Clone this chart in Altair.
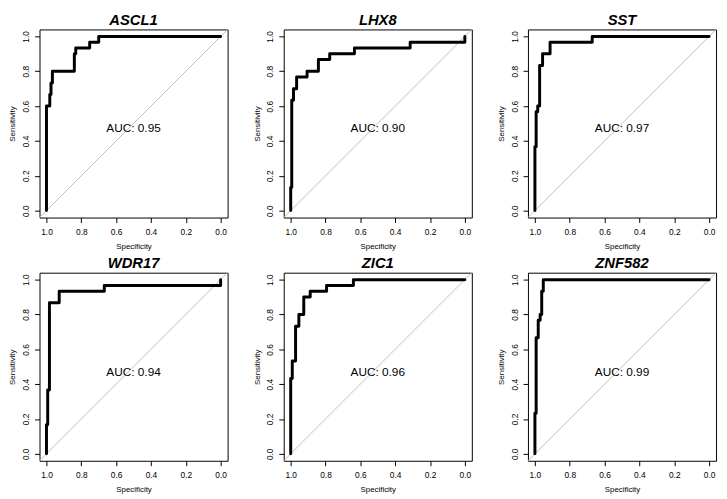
import altair as alt
import pandas as pd

FONT = "Liberation Sans"

genes = ["ASCL1", "LHX8", "SST", "WDR17", "ZIC1", "ZNF582"]
auc_values = [0.95, 0.90, 0.97, 0.94, 0.96, 0.99]

ascl1_spec = [1.0, 1.0, 0.981, 0.981, 0.974, 0.974, 0.966, 0.966, 0.840, 0.840, 0.832, 0.832, 0.752, 0.752, 0.700, 0.700, 0.0]
ascl1_sens = [0.0, 0.6, 0.6, 0.667, 0.667, 0.733, 0.733, 0.8, 0.8, 0.9, 0.9, 0.933, 0.933, 0.967, 0.967, 1.0, 1.0]

lhx8_spec = [1.0, 1.0, 0.994, 0.994, 0.984, 0.984, 0.966, 0.966, 0.906, 0.906, 0.841, 0.841, 0.776, 0.776, 0.634, 0.634, 0.314, 0.314, 0.0, 0.0]
lhx8_sens = [0.0, 0.133, 0.133, 0.633, 0.633, 0.70, 0.70, 0.767, 0.767, 0.80, 0.80, 0.867, 0.867, 0.90, 0.90, 0.933, 0.933, 0.967, 0.967, 1.0]

sst_spec = [1.0, 1.0, 0.993, 0.993, 0.984, 0.984, 0.973, 0.973, 0.956, 0.956, 0.913, 0.913, 0.671, 0.671, 0.0]
sst_sens = [0.0, 0.367, 0.367, 0.567, 0.567, 0.6, 0.6, 0.833, 0.833, 0.9, 0.9, 0.967, 0.967, 1.0, 1.0]

wdr17_spec = [1.0, 1.0, 0.993, 0.993, 0.983, 0.983, 0.927, 0.927, 0.668, 0.668, 0.0, 0.0]
wdr17_sens = [0.0, 0.167, 0.167, 0.367, 0.367, 0.867, 0.867, 0.933, 0.933, 0.967, 0.967, 1.0]

zic1_spec = [1.0, 1.0, 0.991, 0.991, 0.972, 0.972, 0.953, 0.953, 0.925, 0.925, 0.888, 0.888, 0.794, 0.794, 0.640, 0.640, 0.0]
zic1_sens = [0.0, 0.433, 0.433, 0.533, 0.533, 0.733, 0.733, 0.8, 0.8, 0.9, 0.9, 0.933, 0.933, 0.967, 0.967, 1.0, 1.0]

znf582_spec = [1.0, 1.0, 0.993, 0.993, 0.981, 0.981, 0.970, 0.970, 0.961, 0.961, 0.952, 0.952, 0.0]
znf582_sens = [0.0, 0.233, 0.233, 0.667, 0.667, 0.767, 0.767, 0.8, 0.8, 0.933, 0.933, 1.0, 1.0]

curves = [
    (ascl1_spec, ascl1_sens),
    (lhx8_spec, lhx8_sens),
    (sst_spec, sst_sens),
    (wdr17_spec, wdr17_sens),
    (zic1_spec, zic1_sens),
    (znf582_spec, znf582_sens),
]

tick_values = [0.0, 0.2, 0.4, 0.6, 0.8, 1.0]
lo, hi = -0.04, 1.04

PW, PH = 191, 191

axis_common = dict(
    format=".1f", values=tick_values, domain=False, grid=False,
    tickColor="black", tickSize=5, tickWidth=1,
    labelFont=FONT, labelFontSize=8.5, labelColor="black",
    titleFont=FONT, titleFontSize=8, titleFontWeight="normal", titleColor="black",
)


def panel(gene, spec, sens, auc):
    x = alt.X(
        "spec:Q",
        scale=alt.Scale(domain=[lo, hi], reverse=True, nice=False, zero=False),
        axis=alt.Axis(title="Specificity", labelPadding=5, titlePadding=7, **axis_common),
    )
    y = alt.Y(
        "sens:Q",
        scale=alt.Scale(domain=[lo, hi], nice=False, zero=False),
        axis=alt.Axis(title="Sensitivity", labelAngle=270, labelAlign="center",
                      labelBaseline="bottom", labelPadding=4, titlePadding=5,
                      **axis_common),
    )
    df = pd.DataFrame({"spec": spec, "sens": sens, "i": list(range(len(spec)))})
    diag_df = pd.DataFrame({"spec": [hi, lo], "sens": [1 - hi, 1 - lo]})
    txt_df = pd.DataFrame({"spec": [0.5], "sens": [0.5], "label": [f"AUC: {auc:.2f}"]})

    diag = alt.Chart(diag_df).mark_line(color="#BEBEBE", strokeWidth=1).encode(x=x, y=y)
    line = alt.Chart(df).mark_line(color="black", strokeWidth=3, strokeJoin="round",
                                   strokeCap="round").encode(x=x, y=y, order="i:Q")
    txt = alt.Chart(txt_df).mark_text(font=FONT, fontSize=12, align="center",
                                      baseline="top", color="black").encode(
        x=x, y=y, text="label:N")
    return alt.layer(diag, line, txt).properties(
        width=PW, height=PH,
        title=alt.TitleParams(gene, font=FONT, fontSize=15, fontWeight="bold",
                              fontStyle="italic", anchor="middle", offset=0,
                              color="black"),
    )


panels = [panel(g, s[0], s[1], a) for g, s, a in zip(genes, curves, auc_values)]

chart = alt.concat(*panels, columns=3, spacing={"row": 56, "column": 57},
                   bounds="flush").properties(
    padding=0, background="white"
).configure_view(
    stroke="black", strokeWidth=1
)

chart.save("out.html", embed_options={"renderer": "svg", "actions": False})
